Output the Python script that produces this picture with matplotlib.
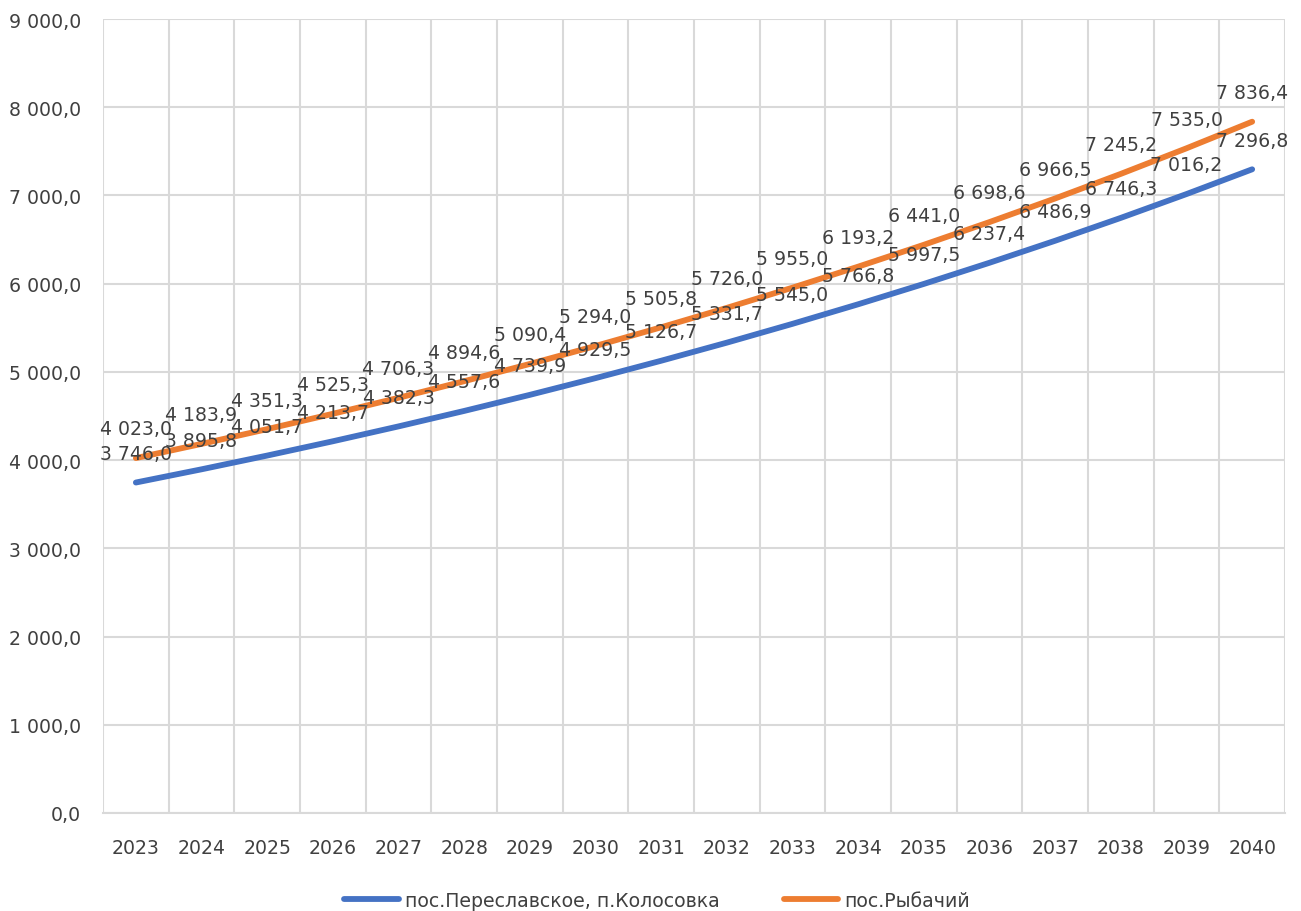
import numpy as np
from matplotlib import pyplot as plt
from matplotlib.ticker import FuncFormatter, MultipleLocator

years = list(range(2023, 2041))
kolosovka = [3746.0, 3895.8, 4051.7, 4213.7, 4382.3, 4557.6, 4739.9, 4929.5, 5126.7,
             5331.7, 5545.0, 5766.8, 5997.5, 6237.4, 6486.9, 6746.3, 7016.2, 7296.8]
rybachy = [4023.0, 4183.9, 4351.3, 4525.3, 4706.3, 4894.6, 5090.4, 5294.0, 5505.8,
           5726.0, 5955.0, 6193.2, 6441.0, 6698.6, 6966.5, 7245.2, 7535.0, 7836.4]

series = [
    ("пос.Переславское, п.Колосовка", kolosovka, "#4472C4"),
    ("пос.Рыбачий", rybachy, "#ED7D31"),
]

txt = "#404040"
grid_c = "#D9D9D9"


def ru_num(v):
    s = f"{v:,.1f}"
    return s.replace(",", " ").replace(".", ",")


plt.rcParams['font.family'] = ['DejaVu Sans']

fig = plt.figure(figsize=(13.01, 9.12), dpi=100, facecolor="white")
ax = fig.add_axes([0.0792, 0.1075, 0.9085, 0.8705])

x = np.arange(len(years))
for name, vals, col in series:
    ax.plot(x, vals, color=col, linewidth=4.2, solid_capstyle="round", label=name, zorder=3)
    for xi, v in zip(x, vals):
        ax.annotate(ru_num(v), (xi, v), xytext=(0, 17), textcoords="offset points",
                    ha="center", va="baseline", fontsize=13.6, color=txt, zorder=4)

ax.set_xlim(-0.5, len(years) - 0.5)
ax.set_ylim(0, 9000)
ax.yaxis.set_major_locator(MultipleLocator(1000))
ax.yaxis.set_major_formatter(FuncFormatter(lambda v, p: ru_num(v)))
ax.set_xticks(x)
ax.set_xticklabels([str(y) for y in years])
ax.set_xticks(np.arange(-0.5, len(years)), minor=True)

# category borders as vertical grid, value grid horizontal
ax.grid(which="major", axis="y", color=grid_c, linewidth=1.5)
ax.grid(which="minor", axis="x", color=grid_c, linewidth=1.5)
ax.set_axisbelow(True)
for s in ["top", "right", "left"]:
    ax.spines[s].set_visible(False)
ax.spines["bottom"].set_color(grid_c)
ax.spines["bottom"].set_linewidth(1.5)
ax.tick_params(which="both", length=0)
ax.tick_params(axis="y", labelsize=13.6, labelcolor=txt, pad=16)
ax.tick_params(axis="x", labelsize=13.6, labelcolor=txt, pad=18)

fig.legend(loc="lower center", bbox_to_anchor=(0.505, -0.017), ncol=2, frameon=False,
           fontsize=13.6, labelcolor=txt, handlelength=2.9, handletextpad=0.3,
           columnspacing=3.4)

fig.savefig("out.png", dpi=100, facecolor="white")
